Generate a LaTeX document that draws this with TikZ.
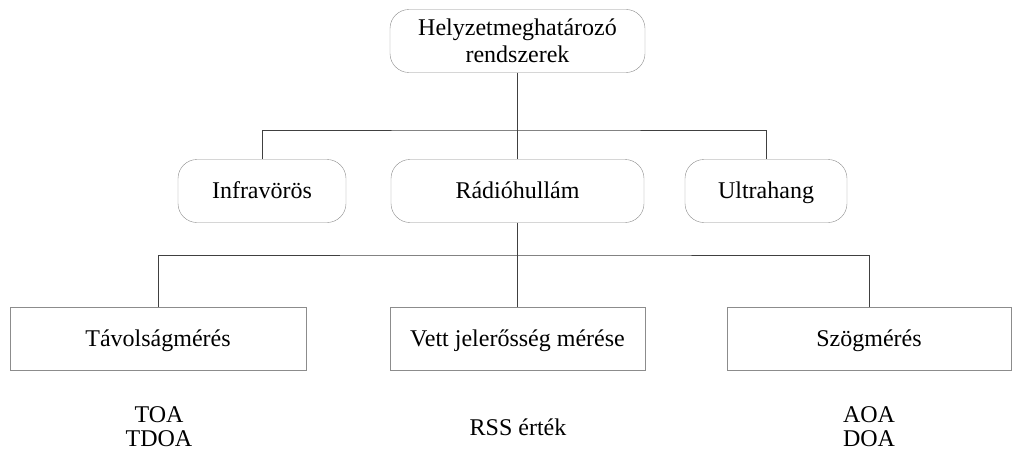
\documentclass[tikz,border=0pt]{standalone}
\usepackage{fontspec}
\setmainfont{Liberation Serif}
\usetikzlibrary{calc}

\tikzset{
  group/.style={draw=black!45,rounded corners=19pt,minimum height=63pt,align=center,font=\fontsize{24}{27}\selectfont},
  method/.style={draw=black!45,minimum height=63pt,align=center,font=\fontsize{24}{27}\selectfont},
  oneline/.style={text height=18pt,text depth=3pt},
  plain/.style={align=center,font=\fontsize{24}{24}\selectfont},
  link/.style={draw=black!75,line width=0.8pt}
}

\begin{document}
\begin{tikzpicture}[x=1pt,y=-1pt]
          \useasboundingbox (0,0) rectangle (1012,452);
          \node[group,minimum width=255pt] (H) at (517.5,41) {Helyzetmeghatározó\\rendszerek};
          \node[group,oneline,minimum width=168pt] (I) at (262,191) {Infravörös};
          \node[group,oneline,minimum width=253pt] (R) at (517.5,191) {Rádióhullám};
          \node[group,oneline,minimum width=162pt] (U) at (766,191) {Ultrahang};
          \node[method,oneline,minimum width=296pt] (T) at (158,339) {Távolságmérés};
          \node[method,oneline,minimum width=255pt] (V) at (517.5,339) {Vett jelerősség mérése};
          \node[method,oneline,minimum width=284pt] (S) at (869,339) {Szögmérés};
          \node[plain] (TD) at (159,427) {TOA\\TDOA};
          \node[plain] (RS) at (518,427) {RSS érték};
          \node[plain] (AD) at (869,427) {AOA\\DOA};
          \coordinate (B1) at (517.5,130);
          \coordinate (B2) at (517.5,255);
          \draw[link] (H.south) -- (B1);
          \draw[link] (I.north) |- (B1) -| (U.north);
          \draw[link] (B1) -- (R.north);
          \draw[link] (R.south) -- (B2);
          \draw[link] (T.north) |- (B2) -| (S.north);
          \draw[link] (B2) -- (V.north);
        \end{tikzpicture}
\end{document}
